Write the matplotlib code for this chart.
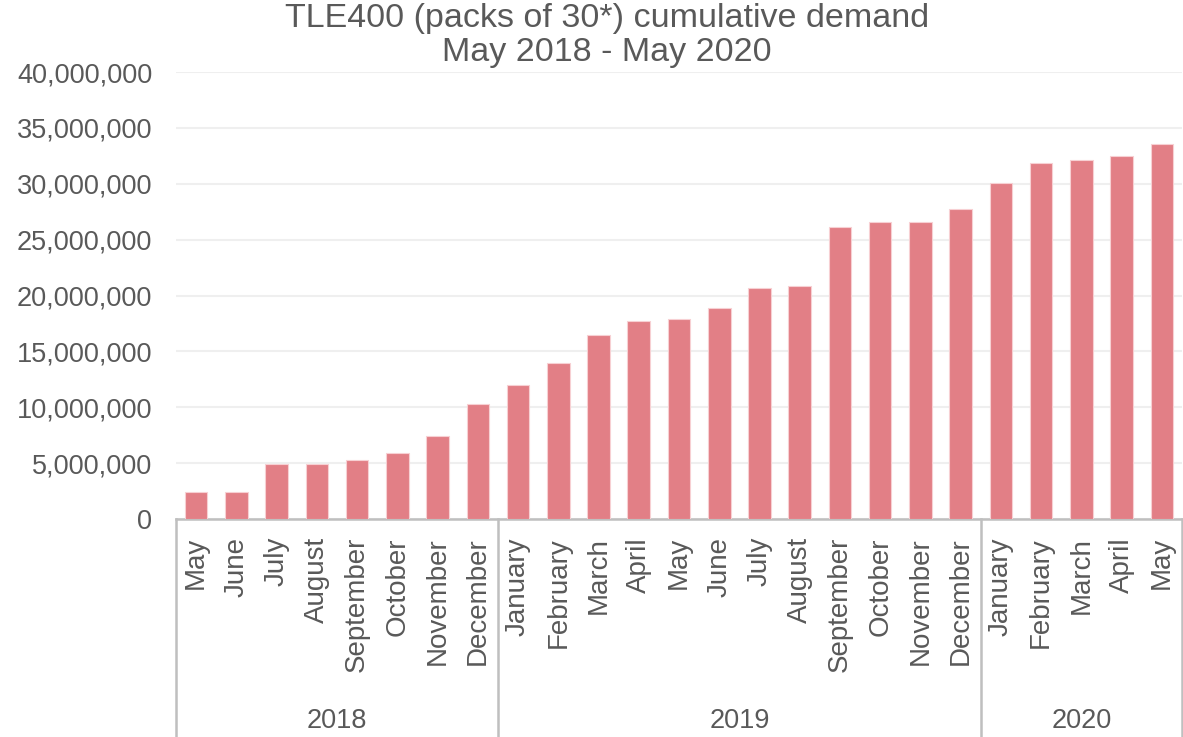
import numpy as np
import matplotlib.pyplot as plt
import matplotlib.transforms as mtransforms
from matplotlib.ticker import FuncFormatter

plt.rcParams['font.family'] = ['Liberation Sans', 'DejaVu Sans']

months = ["May", "June", "July", "August", "September", "October", "November", "December",
          "January", "February", "March", "April", "May", "June", "July", "August",
          "September", "October", "November", "December",
          "January", "February", "March", "April", "May"]
years = ["2018", "2019", "2020"]
year_counts = [8, 12, 5]
demand = [2.4e6, 2.4e6, 4.9e6, 4.9e6, 5.3e6, 5.9e6, 7.4e6, 10.3e6,
          12.0e6, 14.0e6, 16.5e6, 17.7e6, 17.9e6, 18.9e6, 20.7e6, 20.85e6,
          26.1e6, 26.6e6, 26.6e6, 27.7e6,
          30.1e6, 31.9e6, 32.1e6, 32.5e6, 33.6e6]

txt = "#595959"
fig = plt.figure(figsize=(11.83, 7.37), dpi=100)
ax = fig.add_axes([176/1183, 218/737, 1006/1183, 447/737])

x = np.arange(len(demand))
ax.bar(x, demand, width=0.56, color="#e27f86", edgecolor="#f7d0d3", linewidth=0.8, zorder=3)

ax.set_ylim(0, 40e6)
ax.set_xlim(-0.5, 24.5)
ax.set_yticks(np.arange(0, 40e6 + 1, 5e6))
ax.yaxis.set_major_formatter(FuncFormatter(lambda v, p: f"{int(v):,}"))
ax.grid(axis="y", color="#efefef", linewidth=1.5, zorder=0)
for s in ["top", "right", "left"]:
    ax.spines[s].set_visible(False)
ax.spines["bottom"].set_color("#bfbfbf")
ax.spines["bottom"].set_linewidth(1.8)

ax.set_xticks(x)
ax.set_xticklabels(months, rotation=90, fontsize=20, color=txt)
ax.tick_params(axis="x", length=0, pad=13)
ax.tick_params(axis="y", length=0, pad=17, labelsize=19.5, labelcolor=txt)

trans = mtransforms.blended_transform_factory(ax.transData, ax.transAxes)
edges = np.concatenate([[0], np.cumsum(year_counts)]) - 0.5
for e in edges:
    ax.plot([e, e], [0, -0.49], transform=trans, color="#bfbfbf", linewidth=1.8, clip_on=False)
for i, yr in enumerate(years):
    mid = (edges[i] + edges[i + 1]) / 2
    ax.text(mid, -0.453, yr, transform=trans, ha="center", va="center", fontsize=19.5, color=txt)

fig.text(0.513, 1 - 18/737, "TLE400 (packs of 30*) cumulative demand",
         ha="center", va="center", fontsize=24.5, color=txt)
fig.text(0.513, 1 - 52/737, "May 2018 - May 2020",
         ha="center", va="center", fontsize=24.5, color=txt)

fig.savefig("out.png", dpi=100)
